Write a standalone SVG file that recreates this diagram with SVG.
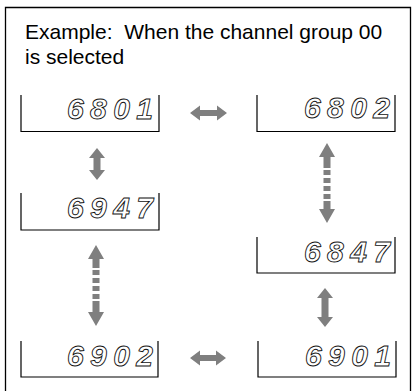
<svg xmlns="http://www.w3.org/2000/svg" width="416" height="391" viewBox="0 0 416 391">
<style>
.frame{fill:none;stroke:#000;stroke-width:1.3}
.box{fill:none;stroke:#000;stroke-width:1.2}
.title{font-family:"Liberation Sans",Arial,sans-serif;font-size:21px;fill:#000}
.lcd{font-family:"Liberation Sans",Arial,sans-serif;font-size:30px;font-style:italic;font-weight:bold;fill:#fff;stroke:#111;stroke-width:0.9;text-anchor:end}
.arr{fill:#7f7f7f;stroke:none}
</style>
<rect width="416" height="391" fill="#fff"/>
<path class="frame" d="M5.5,391 V7.5 H410.5 V391"/>
<g id="title">
<text class="title" x="25" y="39" xml:space="preserve">Example:  When the channel group 00</text>
<text class="title" x="25" y="64">is selected</text>
</g>
<g id="n6801">
<path class="box" d="M21,95 V131.5 H159 V95"/>
<text class="lcd" x="153" y="119" textLength="86" lengthAdjust="spacing">6801</text>
</g>
<g id="n6802">
<path class="box" d="M257,95 V131.5 H395 V95"/>
<text class="lcd" x="390" y="118" textLength="86" lengthAdjust="spacing">6802</text>
</g>
<g id="n6947">
<path class="box" d="M21,193 V230 H159 V193"/>
<text class="lcd" x="153" y="218" textLength="86" lengthAdjust="spacing">6947</text>
</g>
<g id="n6847">
<path class="box" d="M257,237 V273 H395 V237"/>
<text class="lcd" x="390" y="262" textLength="86" lengthAdjust="spacing">6847</text>
</g>
<g id="n6902">
<path class="box" d="M21,341 V377 H158 V341"/>
<text class="lcd" x="153" y="366" textLength="86" lengthAdjust="spacing">6902</text>
</g>
<g id="n6901">
<path class="box" d="M258,341 V377 H396 V341"/>
<text class="lcd" x="391" y="366" textLength="86" lengthAdjust="spacing">6901</text>
</g>
<g id="connectors" class="arr">
<path d="M190,113 L200,105.5 V110 H217 V105.5 L227,113 L217,120.5 V116 H200 V120.5 Z"/>
<path d="M190,358 L200,350.5 V355 H216 V350.5 L226,358 L216,365.5 V361 H200 V365.5 Z"/>
<path d="M97,148 L105,158 H100.5 V170 H105 L97,180 L89,170 H93.5 V158 H89 Z"/>
<path d="M325,288 L333,298 H328.5 V317 H333 L325,327 L317,317 H321.5 V298 H317 Z"/>
<path d="M327,143 L335,157 H330.5 V168 H323.5 V157 H319 Z"/>
<rect x="323.5" y="170" width="7" height="5"/>
<rect x="323.5" y="178" width="7" height="5"/>
<rect x="323.5" y="186" width="7" height="5"/>
<rect x="323.5" y="194" width="7" height="5"/>
<path d="M323.5,201 H330.5 V209 H335 L327,223 L319,209 H323.5 Z"/>
<path d="M96,245 L104,259 H99.5 V268 H92.5 V259 H88 Z"/>
<rect x="92.5" y="270" width="7" height="5"/>
<rect x="92.5" y="278" width="7" height="5"/>
<rect x="92.5" y="286" width="7" height="5"/>
<rect x="92.5" y="294" width="7" height="5"/>
<path d="M92.5,301 H99.5 V312 H104 L96,326 L88,312 H92.5 Z"/>
</g>
</svg>
